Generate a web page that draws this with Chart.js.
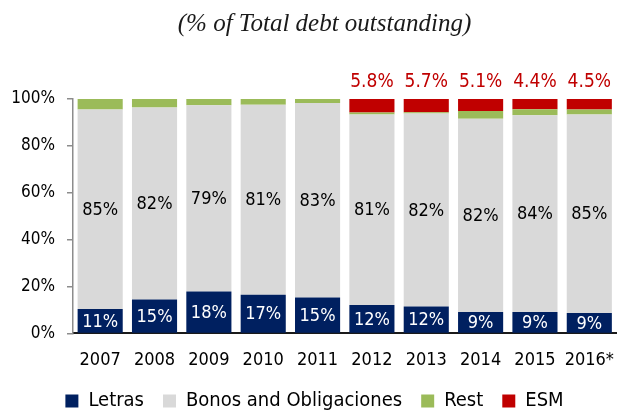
<!DOCTYPE html>
<html>
<head>
<meta charset="utf-8">
<script src="https://cdn.jsdelivr.net/npm/chart.js@4.4.1/dist/chart.umd.min.js"></script>
<style>
  html, body { margin: 0; padding: 0; background: #fff; overflow: hidden; }
  #wrap { width: 630px; height: 412px; }
</style>
</head>
<body>
<div id="wrap"><canvas id="canvas"></canvas></div>
<script>
const years = ["2007", "2008", "2009", "2010", "2011", "2012", "2013", "2014", "2015", "2016*"];

// shares of total debt outstanding (%)
const letras = [10.4, 14.5, 17.9, 16.5, 15.3, 12.1, 11.5, 9.1, 9.1, 8.7];
const bonos  = [85.1, 81.9, 79.4, 81.1, 83.0, 81.3, 82.3, 82.5, 84.0, 84.7];
const rest   = [4.5, 3.6, 2.7, 2.4, 1.7, 0.8, 0.5, 3.3, 2.5, 2.1];
const esm    = [null, null, null, null, null, 5.8, 5.7, 5.1, 4.4, 4.5];

// labels printed on the bars
const letrasLabels = ["11%", "15%", "18%", "17%", "15%", "12%", "12%", "9%", "9%", "9%"];
const bonosLabels  = ["85%", "82%", "79%", "81%", "83%", "81%", "82%", "82%", "84%", "85%"];
const esmLabels    = ["", "", "", "", "", "5.8%", "5.7%", "5.1%", "4.4%", "4.5%"];

const yTicks = [0, 20, 40, 60, 80, 100];

const FONT = "'DejaVu Sans Condensed', 'Liberation Sans', sans-serif";

const barLabels = {
    id: "barLabels",
    afterLayout(chart) {
        // title sits a little right of centre in the original
        chart.titleBlock.left += 10;
        chart.titleBlock.right += 10;
    },
    afterDatasetsDraw(chart) {
        const ctx = chart.ctx;
        ctx.save();
        ctx.textAlign = "center";
        ctx.textBaseline = "middle";

        const inside = [[0, letrasLabels, "#ffffff"], [1, bonosLabels, "#000000"]];
        inside.forEach(([di, texts, color]) => {
            const meta = chart.getDatasetMeta(di);
            ctx.font = "18px " + FONT;
            ctx.fillStyle = color;
            meta.data.forEach((bar, i) => {
                const p = bar.getProps(["x", "y", "base"], true);
                ctx.fillText(texts[i], p.x, (p.y + p.base) / 2 + 1);
            });
        });

        const esmMeta = chart.getDatasetMeta(3);
        ctx.font = "19px " + FONT;
        ctx.fillStyle = "#C00000";
        esmMeta.data.forEach((bar, i) => {
            if (!esmLabels[i]) return;
            const p = bar.getProps(["x", "y"], true);
            ctx.fillText(esmLabels[i], p.x, p.y - 17);
        });
        ctx.restore();
    }
};

const config = {
    type: "bar",
    data: {
        labels: years,
        datasets: [
            { label: "Letras", data: letras, backgroundColor: "#002060" },
            { label: "Bonos and Obligaciones", data: bonos, backgroundColor: "#D9D9D9" },
            { label: "Rest", data: rest, backgroundColor: "#9BBB59" },
            { label: "ESM", data: esm, backgroundColor: "#C00000" }
        ]
    },
    options: {
        responsive: true,
        maintainAspectRatio: false,
        animation: false,
        datasets: {
            bar: { categoryPercentage: 1.0, barPercentage: 0.83, borderWidth: 0 }
        },
        layout: { padding: { left: 0, right: 1, top: 0, bottom: -9 } },
        scales: {
            x: {
                stacked: true,
                afterFit(scale) { scale.height = scale.height - 15; },
                grid: { display: false, drawTicks: false },
                border: { display: true, color: "#1a1a1a", width: 2 },
                ticks: {
                    padding: 16,
                    color: "#000",
                    font: { size: 18, family: FONT }
                }
            },
            y: {
                stacked: true,
                min: 0,
                max: 100,
                afterFit(scale) { scale.width = 73; },
                afterBuildTicks(scale) { scale.ticks = yTicks.map(v => ({ value: v })); },
                grid: { drawOnChartArea: false, drawTicks: true, tickLength: 6, color: "#8c8c8c", lineWidth: 1.5 },
                border: { display: true, color: "#8c8c8c", width: 1.5 },
                ticks: {
                    padding: 12,
                    color: "#000",
                    font: { size: 17, family: FONT },
                    callback: v => v + "%"
                }
            }
        },
        plugins: {
            title: {
                display: true,
                text: "(% of Total debt outstanding)",
                color: "#1a1a1a",
                font: { size: 25, family: "'Liberation Serif', serif", style: "italic", weight: "normal" },
                padding: { top: 9, bottom: 60 }
            },
            legend: {
                position: "bottom",
                labels: {
                    boxWidth: 13,
                    boxHeight: 13,
                    padding: 19,
                    color: "#000",
                    font: { size: 20, family: FONT }
                }
            },
            tooltip: { enabled: false }
        }
    },
    plugins: [barLabels]
};

const myChart = new Chart(document.getElementById("canvas").getContext("2d"), config);
</script>
</body>
</html>
